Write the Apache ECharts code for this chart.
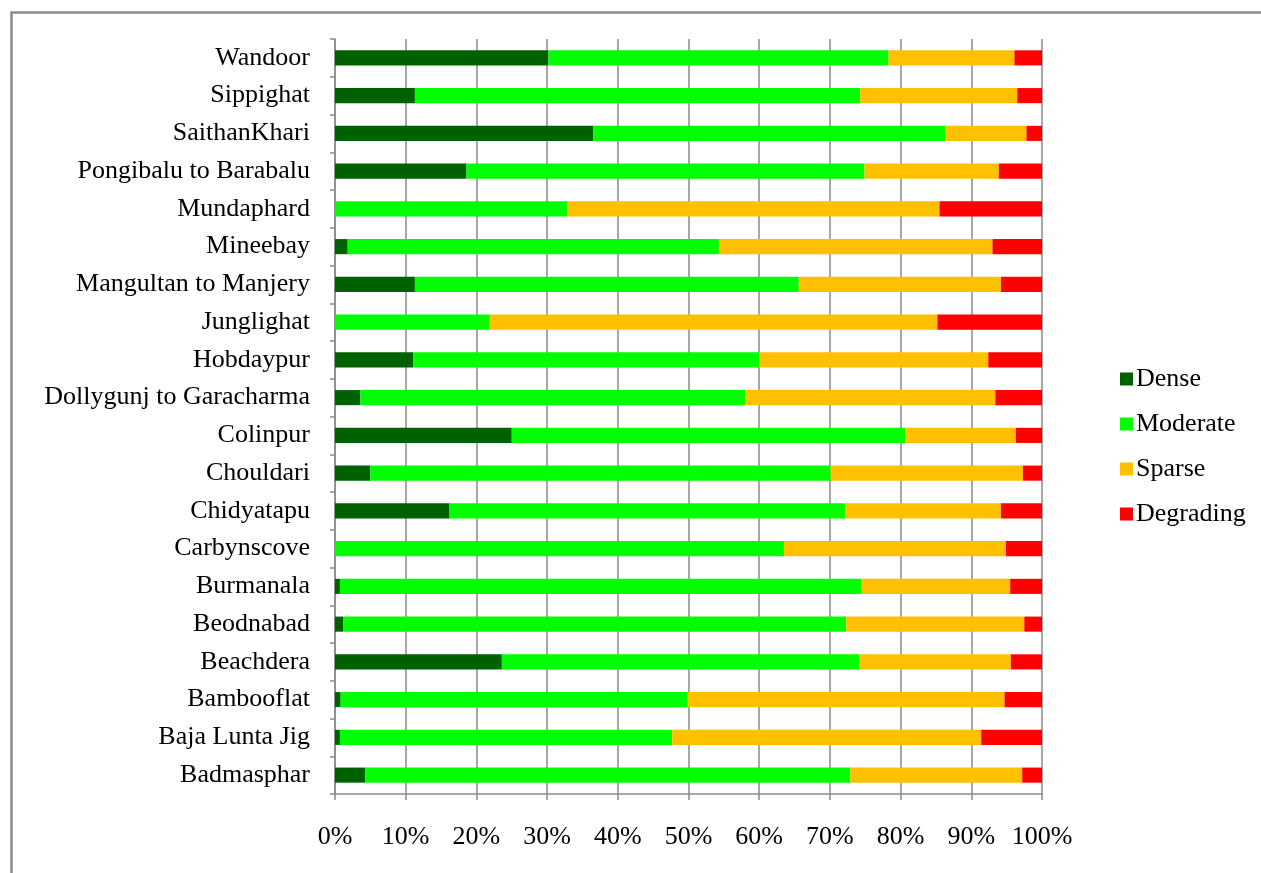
<!DOCTYPE html>
<html>
<head>
<meta charset="utf-8">
<script src="https://cdn.jsdelivr.net/npm/echarts@6/dist/echarts.min.js"></script>
<style>
html,body{margin:0;padding:0;background:#fff;}
#c{width:1261px;height:873px;}
</style>
</head>
<body>
<div id="c"></div>
<script>
const categories = ["Wandoor","Sippighat","SaithanKhari","Pongibalu to Barabalu","Mundaphard","Mineebay","Mangultan to Manjery","Junglighat","Hobdaypur","Dollygunj to Garacharma","Colinpur","Chouldari","Chidyatapu","Carbynscove","Burmanala","Beodnabad","Beachdera","Bambooflat","Baja Lunta Jig","Badmasphar"];
const dense     = [30.2, 11.3, 36.5, 18.6, 0,    1.8, 11.3, 0,    11.1, 3.6, 25.0, 5.0, 16.2, 0,    0.7, 1.2, 23.6, 0.8, 0.7, 4.3];
const moderate  = [48.1, 63.0, 49.8, 56.3, 32.9, 52.5, 54.3, 21.9, 48.9, 54.4, 55.7, 65.1, 56.0, 63.5, 73.7, 71.1, 50.6, 49.1, 47.0, 68.6];
const sparse    = [17.8, 22.2, 11.5, 19.0, 52.6, 38.7, 28.6, 63.3, 32.4, 35.4, 15.6, 27.2, 22.0, 31.4, 21.1, 25.2, 21.4, 44.8, 43.7, 24.3];
const degrading = [3.9,  3.5,  2.2,  6.1,  14.5, 7.0,  5.8,  14.8, 7.6,  6.6,  3.7,  2.7,  5.8,  5.1,  4.5,  2.5,  4.4,  5.3,  8.6,  2.8];
const seriesNames = ["Dense","Moderate","Sparse","Degrading"];
const colors = ["#006100","#00FF00","#FFC000","#FF0000"];

const chart = echarts.init(document.getElementById('c'));
const font = "Liberation Serif";
const values = [dense, moderate, sparse, degrading];
chart.setOption({
  animation: false,
  backgroundColor: '#fff',
  textStyle: {fontFamily: font},
  graphic: [{
    type: 'rect', left: 9, top: 10, z: -10,
    shape: {width: 1300, height: 900},
    style: {fill: 'none', stroke: '#8c8c8c', lineWidth: 2.5}
  }],
  grid: {left: 335, right: 219, top: 39, bottom: 79, containLabel: false},
  legend: {
    orient: 'vertical', left: 1115, top: 361,
    itemWidth: 13, itemHeight: 13, itemGap: 19,
    icon: 'rect',
    textStyle: {fontFamily: font, fontSize: 26, color: '#000', padding: [0,0,0,-2]},
    data: seriesNames
  },
  xAxis: {
    type: 'value', min: 0, max: 100, interval: 10,
    axisLine: {show: true, lineStyle: {color: '#8a8a8a', width: 1.5}},
    axisTick: {show: true, length: 6, lineStyle: {color: '#8a8a8a', width: 1.5}},
    splitLine: {show: true, lineStyle: {color: '#8a8a8a', width: 1.5}},
    axisLabel: {formatter: '{value}%', fontFamily: font, fontSize: 26, color: '#000', margin: 30}
  },
  yAxis: {
    type: 'category', data: categories, inverse: true,
    axisLine: {show: true, lineStyle: {color: '#8a8a8a', width: 1.5}},
    axisTick: {show: true, length: 5, lineStyle: {color: '#8a8a8a', width: 1.5}},
    axisLabel: {fontFamily: font, fontSize: 26, color: '#000', margin: 25}
  },
  series: seriesNames.map((n, i) => ({
    name: n, type: 'bar', stack: 'total', barWidth: '40%',
    itemStyle: {color: colors[i]},
    data: values[i]
  }))
});
</script>
</body>
</html>
